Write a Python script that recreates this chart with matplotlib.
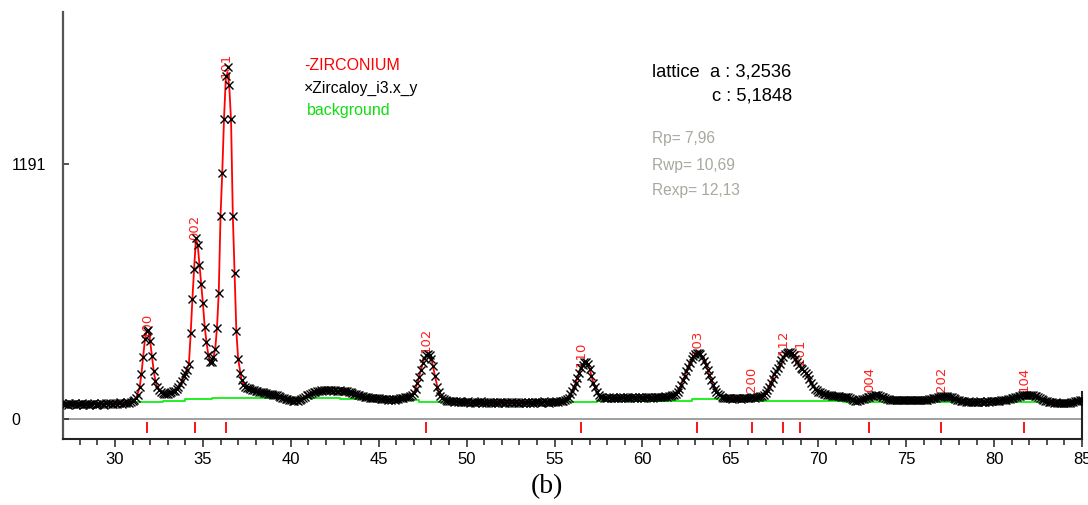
import matplotlib
matplotlib.use("Agg")
import matplotlib.pyplot as plt
import numpy as np

plt.rcParams["font.family"] = ["Liberation Sans", "DejaVu Sans"]

# observed scan: 27.0 .. 85.0 deg, step 0.1 (one row per degree)
OBS_START = 27.0
OBS_STEP = 0.1
OBS_COUNTS = [
    74, 69, 72, 66, 75, 70, 68, 73, 67, 71,            # 27
    69, 74, 66, 70, 72, 65, 71, 68, 73, 67,            # 28
    71, 68, 75, 70, 66, 73, 69, 74, 70, 72,            # 29
    76, 71, 74, 78, 72, 77, 73, 79, 75, 80,            # 30
    84, 90, 97, 112, 148, 212, 290, 372, 410, 414,     # 31
    362, 292, 226, 176, 150, 136, 126, 121, 119, 116,  # 32
    119, 121, 124, 129, 133, 140, 151, 163, 178, 199,  # 33
    215, 230, 255, 400, 560, 700, 845, 815, 720, 630,  # 34
    540, 430, 360, 300, 265, 268, 290, 325, 425, 590,  # 35
    950, 1150, 1400, 1600, 1645, 1560, 1400, 950, 680, 410,  # 36
    280, 215, 180, 160, 150, 146, 143, 140, 137, 134,  # 37
    131, 129, 126, 128, 124, 121, 123, 119, 117, 115,  # 38
    113, 110, 112, 106, 104, 100, 97, 95, 92, 90,      # 39
    88, 86, 84, 87, 85, 89, 92, 98, 104, 110,          # 40
    114, 118, 121, 125, 127, 130, 132, 134, 133, 136,  # 41
    135, 137, 134, 136, 132, 135, 133, 130, 134, 131,  # 42
    132, 129, 131, 128, 124, 121, 118, 115, 112, 110,  # 43
    108, 106, 104, 103, 101, 100, 99, 97, 98, 96,      # 44
    97, 94, 95, 92, 94, 91, 93, 90, 92, 91,            # 45
    93, 94, 96, 98, 100, 102, 104, 105, 106, 112,      # 46
    122, 140, 168, 198, 230, 260, 285, 298, 303, 300,  # 47
    282, 248, 200, 150, 125, 108, 98, 92, 88, 86,      # 48
    84, 82, 85, 80, 83, 79, 82, 78, 81, 80,            # 49
    78, 82, 77, 81, 79, 76, 80, 78, 82, 77,            # 50
    79, 76, 81, 78, 75, 80, 77, 79, 76, 78,            # 51
    80, 77, 75, 79, 76, 81, 78, 74, 79, 77,            # 52
    76, 79, 77, 80, 75, 78, 76, 79, 77, 80,            # 53
    78, 81, 77, 79, 82, 78, 80, 77, 81, 79,            # 54
    80, 83, 81, 85, 82, 86, 88, 92, 100, 115,          # 55
    130, 148, 168, 192, 215, 236, 252, 265, 268, 258,  # 56
    232, 200, 170, 148, 128, 112, 105, 101, 99, 100,   # 57
    97, 101, 98, 102, 99, 96, 100, 103, 98, 101,       # 58
    99, 102, 97, 100, 104, 98, 101, 99, 103, 100,      # 59
    102, 99, 104, 101, 98, 103, 100, 105, 102, 104,    # 60
    101, 105, 103, 107, 104, 108, 106, 110, 112, 118,  # 61
    128, 142, 160, 180, 200, 222, 243, 262, 280, 295,  # 62
    303, 308, 310, 302, 290, 272, 250, 228, 205, 182,  # 63
    160, 142, 128, 118, 110, 104, 100, 98, 99, 96,     # 64
    98, 95, 97, 99, 96, 98, 95, 97, 100, 98,           # 65
    97, 99, 101, 103, 100, 102, 104, 106, 108, 112,    # 66
    122, 134, 150, 168, 188, 208, 224, 238, 255, 275,  # 67
    290, 302, 308, 312, 314, 308, 298, 282, 265, 250,  # 68
    240, 232, 225, 215, 205, 188, 170, 152, 142, 134,  # 69
    128, 124, 120, 118, 116, 113, 112, 110, 109, 107,  # 70
    108, 106, 107, 105, 104, 103, 104, 101, 98, 95,    # 71
    90, 86, 85, 87, 89, 92, 95, 98, 101, 104,          # 72
    106, 108, 110, 112, 111, 108, 104, 101, 97, 94,    # 73
    92, 90, 89, 90, 88, 89, 91, 88, 90, 89,            # 74
    88, 90, 89, 91, 88, 90, 89, 87, 90, 88,            # 75
    89, 91, 90, 92, 94, 96, 98, 100, 103, 105,         # 76
    107, 108, 106, 107, 105, 104, 102, 98, 94, 90,     # 77
    87, 85, 83, 82, 81, 80, 82, 80, 81, 79,            # 78
    81, 80, 82, 79, 81, 80, 83, 81, 82, 84,            # 79
    83, 85, 84, 86, 87, 88, 89, 90, 92, 94,            # 80
    96, 98, 101, 104, 107, 109, 111, 112, 113, 112,    # 81
    111, 110, 110, 108, 106, 103, 99, 94, 89, 85,      # 82
    82, 80, 79, 78, 77, 78, 76, 77, 75, 77,            # 83
    76, 75, 77, 76, 78, 80, 82, 84, 86, 88,            # 84
    89,                                                # 85
]

# calculated profile (ZIRCONIUM)
CALC_2THETA = [
    27.0, 29.0, 30.5, 31.0, 31.2, 31.4, 31.5, 31.6, 31.7, 31.8, 31.9, 32.0, 32.1, 32.2,
    32.3, 32.4, 32.6, 32.9, 33.2, 33.5, 33.8, 34.0, 34.2, 34.3, 34.4, 34.5, 34.6, 34.7,
    34.8, 34.9, 35.0, 35.1, 35.2, 35.3, 35.4, 35.5, 35.6, 35.7, 35.8, 35.9, 36.0, 36.1,
    36.2, 36.3, 36.4, 36.5, 36.6, 36.7, 36.8, 36.9, 37.0, 37.2, 37.5, 38.0, 39.0, 40.0,
    40.5, 41.0, 41.5, 42.5, 43.0, 43.5, 44.0, 45.0, 46.0, 46.8, 47.0, 47.2, 47.4, 47.6,
    47.8, 48.0, 48.2, 48.4, 48.6, 49.0, 55.0, 55.6, 55.9, 56.1, 56.3, 56.5, 56.7, 56.8,
    57.0, 57.2, 57.4, 57.6, 58.0, 61.5, 61.9, 62.1, 62.4, 62.7, 63.0, 63.2, 63.5, 63.8,
    64.1, 64.4, 64.8, 66.0, 66.2, 66.5, 66.8, 67.1, 67.5, 67.8, 68.1, 68.4, 68.7, 69.0,
    69.3, 69.6, 69.9, 70.3, 71.0, 71.8, 72.2, 72.6, 73.0, 73.3, 73.8, 74.2, 76.0, 76.6,
    77.0, 77.5, 78.0, 78.5, 79.5, 80.5, 81.2, 81.7, 82.2, 82.8, 83.3, 84.0, 85.0,
]
CALC_COUNTS = [
    72, 72, 76, 84, 96, 148, 210, 292, 372, 408, 410, 362, 292, 224,
    176, 150, 128, 119, 124, 140, 176, 216, 255, 395, 560, 705, 840, 815,
    722, 628, 538, 432, 360, 302, 268, 270, 290, 328, 428, 592, 948, 1155,
    1405, 1590, 1620, 1550, 1390, 948, 676, 412, 282, 180, 146, 130, 112, 92,
    90, 112, 128, 132, 130, 120, 106, 95, 95, 108, 122, 168, 230, 285,
    302, 280, 200, 125, 98, 84, 80, 88, 115, 148, 192, 236, 264, 268,
    232, 170, 128, 105, 99, 106, 118, 142, 200, 262, 302, 308, 285, 205,
    142, 110, 99, 99, 103, 103, 112, 134, 208, 240, 302, 312, 280, 240,
    218, 170, 132, 118, 108, 100, 88, 95, 108, 111, 98, 90, 90, 98,
    107, 104, 88, 81, 81, 88, 104, 112, 110, 88, 78, 76, 89,
]

# background (step function)
BG_2THETA = [27.0, 31.0, 32.7, 34.0, 35.5, 42.8, 45.0, 47.3, 57.4, 62.8, 64.9, 71.4, 84.5, 85.0]
BG_COUNTS = [73, 79, 85, 93, 100, 92, 87, 78, 85, 93, 85, 81, 89, 89]

# Bragg reflections
REFL_2THETA = [31.82, 34.54, 36.30, 47.67, 56.52, 63.08, 66.22, 67.98, 68.98, 72.90, 76.99, 81.70]
REFL_HKL = ["100", "002", "101", "102", "110", "103", "200", "112", "201", "004", "202", "104"]
REFL_LABEL_Y = [378, 836, 1593, 308, 243, 299, 126, 299, 252, 126, 126, 126]

Y_TICKS = [0, 1191]
X_TICKS = [30, 35, 40, 45, 50, 55, 60, 65, 70, 75, 80, 85]

W, H = 1088, 505


def fig_xy(px, py):
    return px / W, 1 - py / H


def main() -> None:
    fig = plt.figure(figsize=(W / 100, H / 100), dpi=100)
    ax = fig.add_axes([63 / W, (H - 439) / H, (1082 - 63) / W, (439 - 12) / H])

    obs = np.array(OBS_COUNTS, dtype=float)
    obs_x = OBS_START + OBS_STEP * np.arange(len(obs))

    ax.axhline(0, color="#a0a0a0", lw=1.4, zorder=1)
    ax.step(BG_2THETA, BG_COUNTS, where="post", color="#11ee11", lw=1.3, zorder=2)
    ax.plot(CALC_2THETA, CALC_COUNTS, color="#ff0000", lw=1.3, zorder=2)
    ax.plot(obs_x, obs, ls="none", marker="x", ms=5.8, mew=1.0, color="black", zorder=3)
    ax.vlines(REFL_2THETA, -65, -14, color="#ff0000", lw=1.3, zorder=2)

    # hkl labels sit just under the observed points, as in the original plot
    for pos, hkl, ylab in zip(REFL_2THETA, REFL_HKL, REFL_LABEL_Y):
        ax.text(pos, ylab, hkl, rotation=90, ha="center", va="bottom",
                color="#ff2020", fontsize=9.5, family="DejaVu Sans", zorder=2.5)

    ax.set_xlim(27.04, 85.0)
    ax.set_ylim(-93.4, 1901)
    ax.set_xticks(X_TICKS)
    ax.set_xticks(np.arange(28, 85), minor=True)
    ax.set_yticks(Y_TICKS)
    ax.set_yticklabels([str(v) for v in Y_TICKS], ha="left")
    ax.tick_params(axis="x", which="major", length=6, width=1.1, labelsize=12, pad=3, color="#222222")
    ax.tick_params(axis="x", which="minor", length=4, width=1.1, color="#222222")
    ax.tick_params(axis="y", direction="in", length=4, width=1.1, labelsize=11.5, pad=37, color="#222222")

    ax.spines["top"].set_visible(False)
    ax.spines["left"].set_color("#555555")
    ax.spines["left"].set_linewidth(1.6)
    ax.spines["bottom"].set_color("#222222")
    ax.spines["bottom"].set_linewidth(1.5)
    ax.spines["right"].set_bounds(-93.4, 126)
    ax.spines["right"].set_color("#222222")
    ax.spines["right"].set_linewidth(1.5)

    fig.text(*fig_xy(304, 65), "-ZIRCONIUM", color="#ff0000", fontsize=11.5, va="center")
    fig.text(*fig_xy(304, 88), "\u00d7Zircaloy_i3.x_y", color="black", fontsize=11.3, va="center")
    fig.text(*fig_xy(307, 110), "background", color="#11dd11", fontsize=11.5, va="center")

    fig.text(*fig_xy(652, 72), "lattice  a : 3,2536", color="black", fontsize=13.2, va="center")
    fig.text(*fig_xy(712, 96), "c : 5,1848", color="black", fontsize=13.2, va="center")

    for py, label in [(139, "Rp= 7,96"), (165, "Rwp= 10,69"), (190, "Rexp= 12,13")]:
        fig.text(*fig_xy(652, py), label, color="#a8a89e", fontsize=11.2, va="center")

    fig.text(*fig_xy(547, 487), "(b)", family="Liberation Serif", fontsize=20,
             ha="center", va="center", color="black")

    fig.savefig("out.png", dpi=100)


if __name__ == "__main__":
    main()
